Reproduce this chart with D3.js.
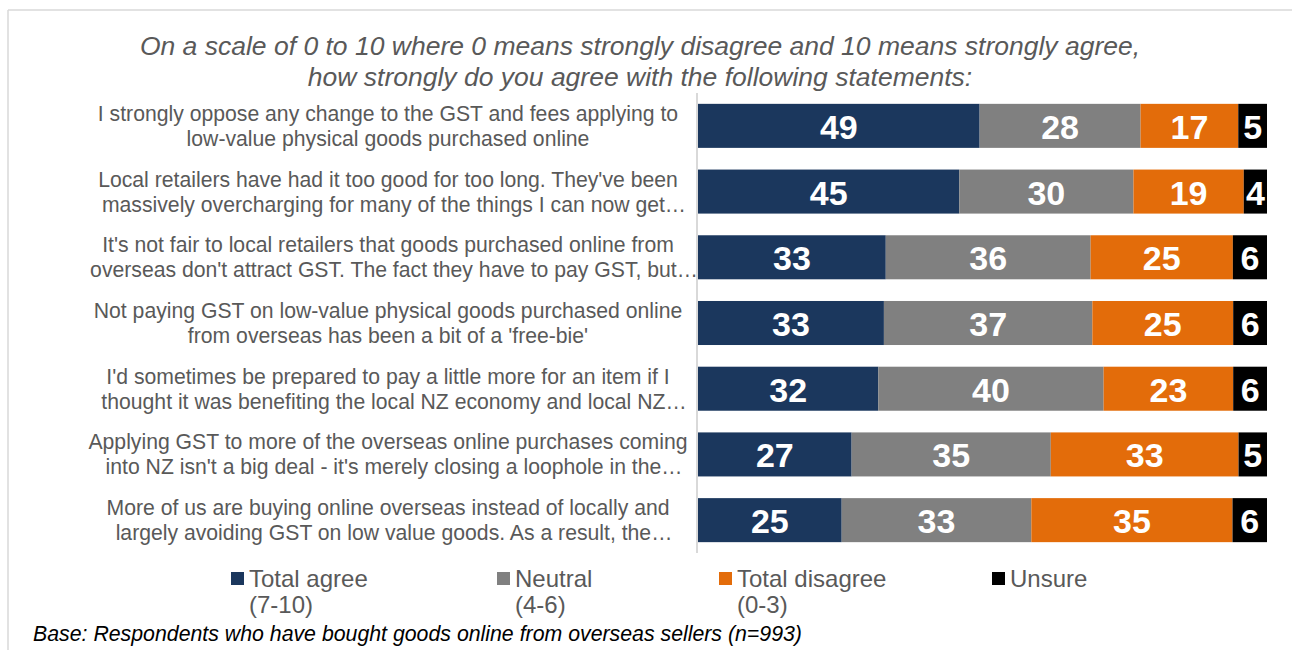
<!DOCTYPE html>
<html><head><meta charset="utf-8">
<script src="https://cdn.jsdelivr.net/npm/d3@7"></script>
<style>
html,body{margin:0;padding:0;background:#fff;}
svg{display:block;font-family:"Liberation Sans",Arial,sans-serif;}
</style></head>
<body><svg id="chart" width="1292" height="650"></svg>
<script>
const titleLines = [
  "On a scale of 0 to 10 where 0 means strongly disagree and 10 means strongly agree,",
  "how strongly do you agree with the following statements:"
];
const categories = [
  ["I strongly oppose any change to the GST and fees applying to", "low-value physical goods purchased online"],
  ["Local retailers have had it too good for too long. They've been", "massively overcharging for many of the things I can now get…"],
  ["It's not fair to local retailers that goods purchased online from", "overseas don't attract GST. The fact they have to pay GST, but…"],
  ["Not paying GST on low-value physical goods purchased online", "from overseas has been a bit of a 'free-bie'"],
  ["I'd sometimes be prepared to pay a little more for an item if I", "thought it was benefiting the local NZ economy and local NZ…"],
  ["Applying GST to more of the overseas online purchases coming", "into NZ isn't a big deal - it's merely closing a loophole in the…"],
  ["More of us are buying online overseas instead of locally and", "largely avoiding GST on low value goods. As a result, the…"]
];
const agree    = [49, 45, 33, 33, 32, 27, 25];
const neutral  = [28, 30, 36, 37, 40, 35, 33];
const disagree = [17, 19, 25, 25, 23, 33, 35];
const unsure   = [5, 4, 6, 6, 6, 5, 6];
const seriesNames = [["Total agree", "(7-10)"], ["Neutral", "(4-6)"], ["Total disagree", "(0-3)"], ["Unsure", ""]];
const footnote = "Base: Respondents who have bought goods online from overseas sellers (n=993)";

const colors = ["#1B375D", "#808080", "#E36C0A", "#000000"];
const legendX = [231, 497, 719, 992];

const svg = d3.select("#chart");
const series = [agree, neutral, disagree, unsure];

// frame
svg.append("line").attr("x1", 8).attr("x2", 8).attr("y1", 10).attr("y2", 650).attr("stroke", "#d9d9d9").attr("stroke-width", 1.5);
svg.append("line").attr("x1", 8).attr("x2", 1292).attr("y1", 10).attr("y2", 10).attr("stroke", "#d9d9d9").attr("stroke-width", 1.5);

// title
svg.append("g").selectAll("text").data(titleLines).join("text")
  .attr("x", 640).attr("y", (d, i) => 46 + i * 31)
  .attr("text-anchor", "middle").attr("dominant-baseline", "central")
  .attr("font-size", 26.5).attr("font-style", "italic").attr("fill", "#595959")
  .text(d => d);

const y = d3.scaleBand().domain(d3.range(categories.length)).range([93, 553]).paddingInner(0.33).paddingOuter(0.165);
const x = d3.scaleLinear().domain([0, 1]).range([698, 1267]);

const rows = categories.map((c, i) => {
  const vals = series.map(s => s[i]);
  const total = d3.sum(vals);
  let cum = 0;
  return vals.map((v, k) => { const seg = {row: i, k, v, x0: cum / total, x1: (cum + v) / total}; cum += v; return seg; });
});

const g = svg.append("g");
rows.forEach(segs => {
  g.selectAll(null).data(segs).join("rect")
    .attr("x", d => x(d.x0)).attr("width", d => x(d.x1) - x(d.x0))
    .attr("y", d => y(d.row)).attr("height", y.bandwidth())
    .attr("fill", d => colors[d.k]);
  g.selectAll(null).data(segs).join("text")
    .attr("x", d => (x(d.x0) + x(d.x1)) / 2).attr("y", d => y(d.row) + y.bandwidth() / 2 + 1)
    .attr("text-anchor", "middle").attr("dominant-baseline", "central")
    .attr("font-size", 34).attr("font-weight", "bold").attr("fill", "#fff")
    .text(d => d.v);
});

// axis line
svg.append("line").attr("x1", 697).attr("x2", 697).attr("y1", 93).attr("y2", 553).attr("stroke", "#d9d9d9").attr("stroke-width", 2);

// category labels
categories.forEach((lines, i) => {
  const cy = y(i) + y.bandwidth() / 2;
  svg.append("g").selectAll("text").data(lines).join("text")
    .attr("x", d => d.endsWith("…") ? 394 : 388).attr("y", (d, j) => cy - 12.5 + j * 25)
    .attr("text-anchor", "middle").attr("dominant-baseline", "central")
    .attr("font-size", 21.2).attr("fill", "#595959")
    .text(d => d);
});

// legend
const lg = svg.append("g");
seriesNames.forEach((nm, k) => {
  lg.append("rect").attr("x", legendX[k]).attr("y", 572).attr("width", 13).attr("height", 13).attr("fill", colors[k]);
  lg.append("text").attr("x", legendX[k] + 18).attr("y", 578).attr("dominant-baseline", "central")
    .attr("font-size", 24).attr("fill", "#595959").text(nm[0]);
  if (nm[1]) lg.append("text").attr("x", legendX[k] + 18).attr("y", 604).attr("dominant-baseline", "central")
    .attr("font-size", 24).attr("fill", "#595959").text(nm[1]);
});

svg.append("text").attr("x", 33).attr("y", 634).attr("dominant-baseline", "central")
  .attr("font-size", 21.3).attr("font-style", "italic").attr("fill", "#000").text(footnote);
</script></body></html>
